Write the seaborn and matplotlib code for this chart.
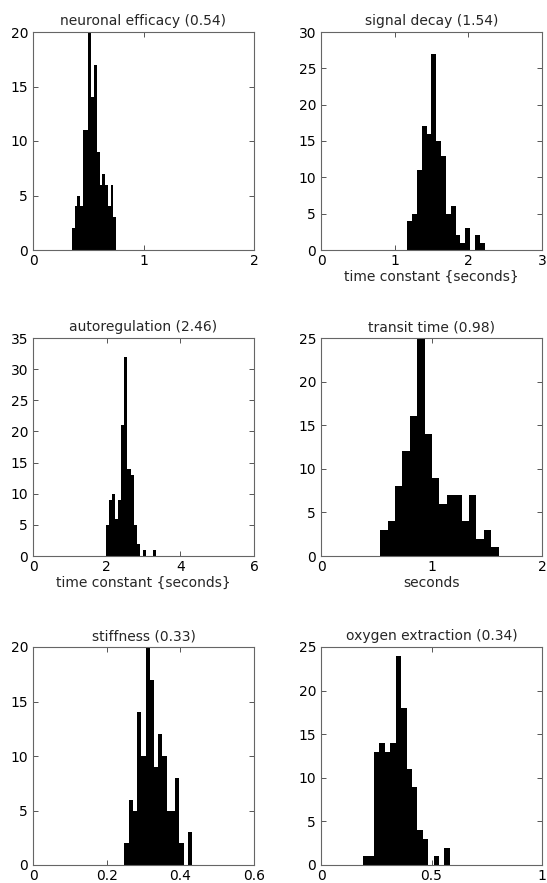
import numpy as np
import matplotlib
matplotlib.use("Agg")
import matplotlib.pyplot as plt
import seaborn as sns

# Posterior sample histograms of the haemodynamic parameters (16 bins each)
titles = [
    "neuronal efficacy (0.54)",
    "signal decay (1.54)",
    "autoregulation (2.46)",
    "transit time (0.98)",
    "stiffness (0.33)",
    "oxygen extraction (0.34)",
]
xlabels = ["", "time constant {seconds}", "time constant {seconds}", "seconds", "", ""]

efficacy_counts = [2, 4, 5, 4, 11, 11, 20, 14, 17, 9, 6, 7, 6, 4, 6, 3]
decay_counts = [4, 5, 11, 17, 16, 27, 15, 13, 5, 6, 2, 1, 3, 0, 2, 1]
autoreg_counts = [5, 9, 10, 6, 9, 21, 32, 14, 13, 5, 2, 0, 1, 0, 0, 1]
transit_counts = [3, 4, 8, 12, 16, 25, 14, 9, 6, 7, 7, 4, 7, 2, 3, 1]
stiffness_counts = [2, 6, 5, 14, 10, 20, 17, 9, 12, 10, 5, 5, 8, 2, 0, 3]
oxygen_counts = [1, 1, 13, 14, 13, 14, 24, 18, 11, 9, 4, 3, 0, 1, 0, 2]

# sample range covered by the bins of each parameter
bin_lo = [0.352, 1.17, 1.97, 0.536, 0.248, 0.191]
bin_hi = [0.752, 2.22, 3.33, 1.608, 0.432, 0.583]

x_max = [2, 3, 6, 2, 0.6, 1]
y_max = [20, 30, 35, 25, 20, 25]
x_ticks = [[0, 1, 2], [0, 1, 2, 3], [0, 2, 4, 6], [0, 1, 2],
           [0, 0.2, 0.4, 0.6], [0, 0.5, 1]]
x_ticklabels = [["0", "1", "2"], ["0", "1", "2", "3"], ["0", "2", "4", "6"],
                ["0", "1", "2"], ["0", "0.2", "0.4", "0.6"], ["0", "0.5", "1"]]

all_counts = [efficacy_counts, decay_counts, autoreg_counts,
              transit_counts, stiffness_counts, oxygen_counts]

sns.set_style("ticks")
plt.rcParams["font.family"] = ["DejaVu Sans"]
plt.rcParams["xtick.direction"] = "in"
plt.rcParams["ytick.direction"] = "in"

W, H = 547, 883
fig = plt.figure(figsize=(W / 100, H / 100), dpi=100)

col_left = [33, 321]
row_top = [32, 338, 647]
ax_w, ax_h = 221, 218

for i in range(6):
    r, c = divmod(i, 2)
    left = col_left[c] / W
    bottom = 1 - (row_top[r] + ax_h) / H
    ax = fig.add_axes([left, bottom, ax_w / W, ax_h / H])

    counts = np.array(all_counts[i], dtype=float)
    nb = len(counts)
    edges = np.linspace(bin_lo[i], bin_hi[i], nb + 1)
    centers = 0.5 * (edges[:-1] + edges[1:])

    sns.histplot(x=centers, weights=counts, bins=nb,
                 binrange=(bin_lo[i], bin_hi[i]), stat="count",
                 color="black", edgecolor="black", linewidth=0,
                 alpha=1, ax=ax)

    ax.set_xlim(0, x_max[i])
    ax.set_ylim(0, y_max[i])
    ax.set_xticks(x_ticks[i])
    ax.set_xticklabels(x_ticklabels[i])
    ax.set_yticks(np.arange(0, y_max[i] + 1, 5))
    ax.tick_params(axis="both", which="both", direction="in", length=3.5,
                   width=0.7, color="#555555", labelsize=10,
                   top=True, right=True, labelcolor="black")
    ax.tick_params(axis="x", pad=3)
    ax.tick_params(axis="y", pad=3.5)
    for s in ax.spines.values():
        s.set_visible(True)
        s.set_color("#666666")
        s.set_linewidth(0.8)
    ax.set_ylabel("")
    ax.set_xlabel(xlabels[i], fontsize=10, labelpad=1)
    ax.set_title(titles[i], fontsize=10, pad=5)

fig.savefig("out.png", dpi=100, facecolor="white")
